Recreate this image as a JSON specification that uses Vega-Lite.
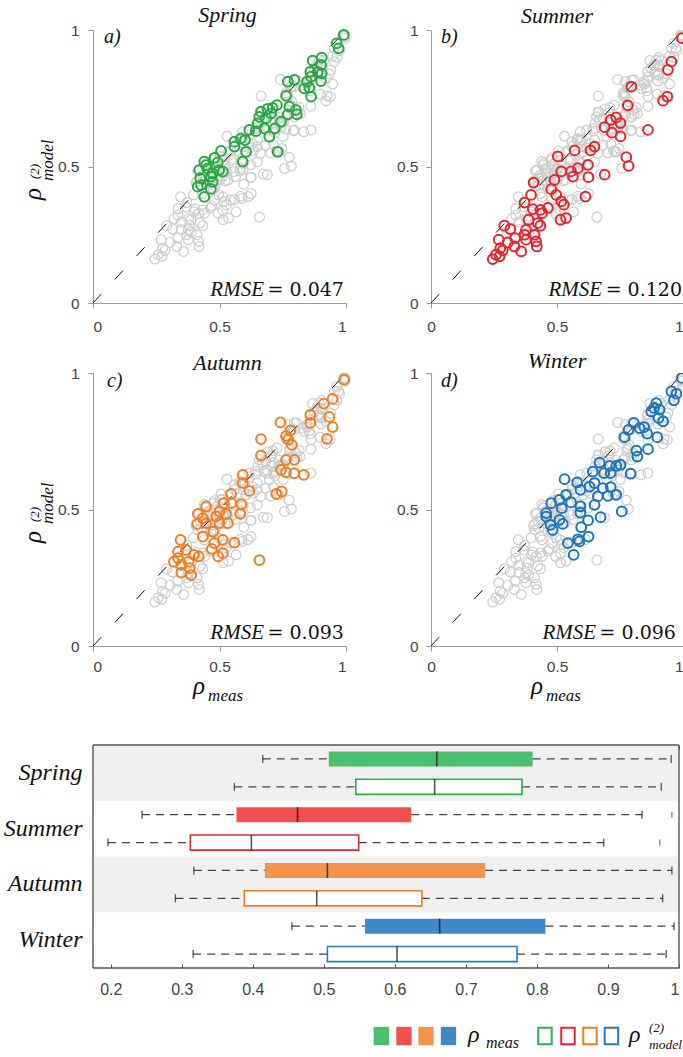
{
  "$schema": "https://vega.github.io/schema/vega-lite/v6.json",
  "background": "white",
  "padding": {"left": 3, "top": 4, "right": 0, "bottom": 0},
  "config": {
    "view": {"stroke": null},
    "axis": {"grid": false, "labelFont": "Liberation Sans", "labelColor": "#444", "domainColor": "#999", "tickColor": "#999", "labelFontSize": 15.5},
    "title": {"font": "Liberation Serif", "fontStyle": "italic", "fontWeight": "normal", "fontSize": 22, "color": "#111", "baseline": "alphabetic"}
  },
  "datasets": {
    "pts": [
      {"s":"Spring","m":0.991,"p":0.982},{"s":"Spring","m":0.963,"p":0.951},{"s":"Spring","m":0.971,"p":0.933},{"s":"Spring","m":0.904,"p":0.899},{"s":"Spring","m":0.868,"p":0.888},{"s":"Spring","m":0.901,"p":0.872},{"s":"Spring","m":0.859,"p":0.847},{"s":"Spring","m":0.888,"p":0.847},{"s":"Spring","m":0.904,"p":0.841},{"s":"Spring","m":0.862,"p":0.829},{"s":"Spring","m":0.901,"p":0.813},{"s":"Spring","m":0.770,"p":0.811},{"s":"Spring","m":0.796,"p":0.817},{"s":"Spring","m":0.846,"p":0.811},{"s":"Spring","m":0.835,"p":0.786},{"s":"Spring","m":0.855,"p":0.789},{"s":"Spring","m":0.862,"p":0.756},{"s":"Spring","m":0.763,"p":0.759},{"s":"Spring","m":0.727,"p":0.725},{"s":"Spring","m":0.710,"p":0.715},{"s":"Spring","m":0.690,"p":0.711},{"s":"Spring","m":0.704,"p":0.695},{"s":"Spring","m":0.776,"p":0.719},{"s":"Spring","m":0.802,"p":0.707},{"s":"Spring","m":0.806,"p":0.691},{"s":"Spring","m":0.770,"p":0.691},{"s":"Spring","m":0.657,"p":0.682},{"s":"Spring","m":0.684,"p":0.677},{"s":"Spring","m":0.651,"p":0.658},{"s":"Spring","m":0.743,"p":0.664},{"s":"Spring","m":0.618,"p":0.634},{"s":"Spring","m":0.644,"p":0.630},{"s":"Spring","m":0.677,"p":0.640},{"s":"Spring","m":0.719,"p":0.640},{"s":"Spring","m":0.697,"p":0.609},{"s":"Spring","m":0.585,"p":0.603},{"s":"Spring","m":0.559,"p":0.591},{"s":"Spring","m":0.559,"p":0.573},{"s":"Spring","m":0.605,"p":0.554},{"s":"Spring","m":0.730,"p":0.554},{"s":"Spring","m":0.506,"p":0.557},{"s":"Spring","m":0.480,"p":0.532},{"s":"Spring","m":0.440,"p":0.518},{"s":"Spring","m":0.420,"p":0.487},{"s":"Spring","m":0.453,"p":0.493},{"s":"Spring","m":0.473,"p":0.475},{"s":"Spring","m":0.499,"p":0.487},{"s":"Spring","m":0.513,"p":0.481},{"s":"Spring","m":0.493,"p":0.515},{"s":"Spring","m":0.447,"p":0.505},{"s":"Spring","m":0.424,"p":0.457},{"s":"Spring","m":0.466,"p":0.463},{"s":"Spring","m":0.427,"p":0.432},{"s":"Spring","m":0.473,"p":0.444},{"s":"Spring","m":0.466,"p":0.418},{"s":"Spring","m":0.440,"p":0.389},{"s":"Spring","m":0.592,"p":0.518},{"s":"Spring","m":0.414,"p":0.426},{"s":"Spring","m":0.601,"p":0.597},{"s":"Spring","m":0.664,"p":0.701},
      {"s":"Summer","m":0.996,"p":0.970},{"s":"Summer","m":0.954,"p":0.884},{"s":"Summer","m":0.940,"p":0.854},{"s":"Summer","m":0.938,"p":0.756},{"s":"Summer","m":0.921,"p":0.741},{"s":"Summer","m":0.795,"p":0.793},{"s":"Summer","m":0.781,"p":0.724},{"s":"Summer","m":0.861,"p":0.634},{"s":"Summer","m":0.735,"p":0.680},{"s":"Summer","m":0.713,"p":0.671},{"s":"Summer","m":0.752,"p":0.659},{"s":"Summer","m":0.689,"p":0.644},{"s":"Summer","m":0.718,"p":0.624},{"s":"Summer","m":0.752,"p":0.610},{"s":"Summer","m":0.649,"p":0.573},{"s":"Summer","m":0.633,"p":0.559},{"s":"Summer","m":0.570,"p":0.559},{"s":"Summer","m":0.775,"p":0.534},{"s":"Summer","m":0.784,"p":0.502},{"s":"Summer","m":0.623,"p":0.506},{"s":"Summer","m":0.583,"p":0.494},{"s":"Summer","m":0.556,"p":0.482},{"s":"Summer","m":0.563,"p":0.463},{"s":"Summer","m":0.625,"p":0.461},{"s":"Summer","m":0.689,"p":0.470},{"s":"Summer","m":0.503,"p":0.537},{"s":"Summer","m":0.517,"p":0.482},{"s":"Summer","m":0.490,"p":0.451},{"s":"Summer","m":0.477,"p":0.417},{"s":"Summer","m":0.497,"p":0.396},{"s":"Summer","m":0.517,"p":0.372},{"s":"Summer","m":0.527,"p":0.360},{"s":"Summer","m":0.514,"p":0.305},{"s":"Summer","m":0.536,"p":0.311},{"s":"Summer","m":0.613,"p":0.390},{"s":"Summer","m":0.407,"p":0.441},{"s":"Summer","m":0.397,"p":0.396},{"s":"Summer","m":0.371,"p":0.368},{"s":"Summer","m":0.404,"p":0.344},{"s":"Summer","m":0.434,"p":0.341},{"s":"Summer","m":0.464,"p":0.348},{"s":"Summer","m":0.441,"p":0.329},{"s":"Summer","m":0.387,"p":0.305},{"s":"Summer","m":0.424,"p":0.293},{"s":"Summer","m":0.434,"p":0.283},{"s":"Summer","m":0.291,"p":0.283},{"s":"Summer","m":0.315,"p":0.271},{"s":"Summer","m":0.377,"p":0.268},{"s":"Summer","m":0.371,"p":0.250},{"s":"Summer","m":0.411,"p":0.250},{"s":"Summer","m":0.334,"p":0.238},{"s":"Summer","m":0.269,"p":0.232},{"s":"Summer","m":0.305,"p":0.222},{"s":"Summer","m":0.417,"p":0.226},{"s":"Summer","m":0.377,"p":0.232},{"s":"Summer","m":0.331,"p":0.207},{"s":"Summer","m":0.275,"p":0.201},{"s":"Summer","m":0.285,"p":0.193},{"s":"Summer","m":0.258,"p":0.177},{"s":"Summer","m":0.358,"p":0.189},{"s":"Summer","m":0.245,"p":0.161},{"s":"Summer","m":0.272,"p":0.171},{"s":"Summer","m":0.420,"p":0.207},
      {"s":"Autumn","m":0.993,"p":0.976},{"s":"Autumn","m":0.947,"p":0.905},{"s":"Autumn","m":0.912,"p":0.888},{"s":"Autumn","m":0.934,"p":0.839},{"s":"Autumn","m":0.947,"p":0.802},{"s":"Autumn","m":0.925,"p":0.759},{"s":"Autumn","m":0.859,"p":0.847},{"s":"Autumn","m":0.859,"p":0.817},{"s":"Autumn","m":0.741,"p":0.819},{"s":"Autumn","m":0.780,"p":0.790},{"s":"Autumn","m":0.763,"p":0.770},{"s":"Autumn","m":0.772,"p":0.756},{"s":"Autumn","m":0.786,"p":0.737},{"s":"Autumn","m":0.664,"p":0.758},{"s":"Autumn","m":0.664,"p":0.697},{"s":"Autumn","m":0.763,"p":0.682},{"s":"Autumn","m":0.796,"p":0.682},{"s":"Autumn","m":0.763,"p":0.636},{"s":"Autumn","m":0.796,"p":0.633},{"s":"Autumn","m":0.833,"p":0.627},{"s":"Autumn","m":0.743,"p":0.645},{"s":"Autumn","m":0.592,"p":0.627},{"s":"Autumn","m":0.592,"p":0.597},{"s":"Autumn","m":0.618,"p":0.568},{"s":"Autumn","m":0.724,"p":0.557},{"s":"Autumn","m":0.746,"p":0.566},{"s":"Autumn","m":0.546,"p":0.557},{"s":"Autumn","m":0.517,"p":0.523},{"s":"Autumn","m":0.546,"p":0.523},{"s":"Autumn","m":0.582,"p":0.484},{"s":"Autumn","m":0.586,"p":0.520},{"s":"Autumn","m":0.500,"p":0.493},{"s":"Autumn","m":0.526,"p":0.484},{"s":"Autumn","m":0.487,"p":0.475},{"s":"Autumn","m":0.447,"p":0.511},{"s":"Autumn","m":0.414,"p":0.484},{"s":"Autumn","m":0.434,"p":0.468},{"s":"Autumn","m":0.447,"p":0.450},{"s":"Autumn","m":0.412,"p":0.447},{"s":"Autumn","m":0.500,"p":0.450},{"s":"Autumn","m":0.533,"p":0.450},{"s":"Autumn","m":0.475,"p":0.419},{"s":"Autumn","m":0.434,"p":0.401},{"s":"Autumn","m":0.513,"p":0.389},{"s":"Autumn","m":0.559,"p":0.379},{"s":"Autumn","m":0.480,"p":0.377},{"s":"Autumn","m":0.470,"p":0.356},{"s":"Autumn","m":0.513,"p":0.340},{"s":"Autumn","m":0.495,"p":0.328},{"s":"Autumn","m":0.346,"p":0.389},{"s":"Autumn","m":0.368,"p":0.352},{"s":"Autumn","m":0.336,"p":0.346},{"s":"Autumn","m":0.399,"p":0.334},{"s":"Autumn","m":0.418,"p":0.328},{"s":"Autumn","m":0.320,"p":0.309},{"s":"Autumn","m":0.378,"p":0.309},{"s":"Autumn","m":0.349,"p":0.297},{"s":"Autumn","m":0.382,"p":0.285},{"s":"Autumn","m":0.349,"p":0.269},{"s":"Autumn","m":0.388,"p":0.260},{"s":"Autumn","m":0.658,"p":0.315},{"s":"Autumn","m":0.336,"p":0.322},
      {"s":"Winter","m":0.996,"p":0.982},{"s":"Winter","m":0.954,"p":0.933},{"s":"Winter","m":0.974,"p":0.924},{"s":"Winter","m":0.964,"p":0.900},{"s":"Winter","m":0.894,"p":0.890},{"s":"Winter","m":0.885,"p":0.872},{"s":"Winter","m":0.907,"p":0.866},{"s":"Winter","m":0.874,"p":0.859},{"s":"Winter","m":0.903,"p":0.835},{"s":"Winter","m":0.921,"p":0.823},{"s":"Winter","m":0.805,"p":0.817},{"s":"Winter","m":0.784,"p":0.792},{"s":"Winter","m":0.828,"p":0.798},{"s":"Winter","m":0.846,"p":0.802},{"s":"Winter","m":0.858,"p":0.778},{"s":"Winter","m":0.768,"p":0.765},{"s":"Winter","m":0.898,"p":0.765},{"s":"Winter","m":0.815,"p":0.716},{"s":"Winter","m":0.819,"p":0.694},{"s":"Winter","m":0.861,"p":0.721},{"s":"Winter","m":0.669,"p":0.672},{"s":"Winter","m":0.709,"p":0.660},{"s":"Winter","m":0.735,"p":0.660},{"s":"Winter","m":0.752,"p":0.664},{"s":"Winter","m":0.642,"p":0.639},{"s":"Winter","m":0.687,"p":0.633},{"s":"Winter","m":0.713,"p":0.633},{"s":"Winter","m":0.792,"p":0.631},{"s":"Winter","m":0.530,"p":0.611},{"s":"Winter","m":0.580,"p":0.599},{"s":"Winter","m":0.649,"p":0.597},{"s":"Winter","m":0.629,"p":0.584},{"s":"Winter","m":0.593,"p":0.572},{"s":"Winter","m":0.682,"p":0.578},{"s":"Winter","m":0.713,"p":0.582},{"s":"Winter","m":0.662,"p":0.548},{"s":"Winter","m":0.702,"p":0.550},{"s":"Winter","m":0.735,"p":0.554},{"s":"Winter","m":0.536,"p":0.554},{"s":"Winter","m":0.556,"p":0.526},{"s":"Winter","m":0.477,"p":0.523},{"s":"Winter","m":0.510,"p":0.535},{"s":"Winter","m":0.649,"p":0.517},{"s":"Winter","m":0.593,"p":0.511},{"s":"Winter","m":0.519,"p":0.505},{"s":"Winter","m":0.457,"p":0.487},{"s":"Winter","m":0.593,"p":0.489},{"s":"Winter","m":0.757,"p":0.493},{"s":"Winter","m":0.673,"p":0.472},{"s":"Winter","m":0.457,"p":0.474},{"s":"Winter","m":0.510,"p":0.462},{"s":"Winter","m":0.523,"p":0.447},{"s":"Winter","m":0.623,"p":0.460},{"s":"Winter","m":0.474,"p":0.444},{"s":"Winter","m":0.483,"p":0.425},{"s":"Winter","m":0.596,"p":0.435},{"s":"Winter","m":0.583,"p":0.391},{"s":"Winter","m":0.625,"p":0.401},{"s":"Winter","m":0.543,"p":0.377},{"s":"Winter","m":0.589,"p":0.383},{"s":"Winter","m":0.566,"p":0.334}
    ],
    "box": [
      {"s":"Spring","k":"meas","lo":0.414,"q1":0.507,"med":0.659,"q3":0.794,"hi":0.989},
      {"s":"Spring","k":"model","lo":0.374,"q1":0.545,"med":0.656,"q3":0.779,"hi":0.975},
      {"s":"Summer","k":"meas","lo":0.244,"q1":0.377,"med":0.463,"q3":0.623,"hi":0.948,"out":0.99},
      {"s":"Summer","k":"model","lo":0.196,"q1":0.312,"med":0.398,"q3":0.549,"hi":0.894,"out":0.973},
      {"s":"Autumn","k":"meas","lo":0.317,"q1":0.417,"med":0.505,"q3":0.727,"hi":0.99},
      {"s":"Autumn","k":"model","lo":0.291,"q1":0.388,"med":0.49,"q3":0.638,"hi":0.977},
      {"s":"Winter","k":"meas","lo":0.455,"q1":0.558,"med":0.663,"q3":0.812,"hi":0.993},
      {"s":"Winter","k":"model","lo":0.316,"q1":0.505,"med":0.603,"q3":0.772,"hi":0.982}
    ]
  },
  "columns": 2,
  "bounds": "flush",
  "align": "each",
  "spacing": {"row": 0, "column": 85},
  "concat": [
    {
      "width": 253, "height": 273,
      "title": {"text": "Spring", "dx": 8, "offset": -4},
      "layer": [
        {"data": {"name": "pts"}, "transform": [{"filter": "datum.s != 'Spring'"}],
         "mark": {"type": "point", "shape": "circle", "size": 95, "filled": false, "color": "#cccccc", "strokeWidth": 1.2, "opacity": 1},
         "encoding": {
           "x": {"field": "m", "type": "quantitative", "scale": {"domain": [0, 1]}, "axis": {"values": [0, 0.5, 1], "format": ".1~f", "title": null, "tickSize": 5, "labelPadding": 11}},
           "y": {"field": "p", "type": "quantitative", "scale": {"domain": [0, 1]}, "axis": {"values": [0, 0.5, 1], "format": ".1~f", "title": null, "tickSize": 5, "labelPadding": 9}}}},
        {"data": {"values": [{}]}, "mark": {"type": "rule", "color": "#111", "strokeWidth": 1, "strokeDash": [12, 20]},
         "encoding": {"x": {"datum": 0, "type": "quantitative"}, "y": {"datum": 0, "type": "quantitative"}, "x2": {"datum": 1}, "y2": {"datum": 1}}},
        {"data": {"name": "pts"}, "transform": [{"filter": "datum.s == 'Spring'"}],
         "mark": {"type": "point", "shape": "circle", "size": 95, "filled": false, "color": "#27a844", "strokeWidth": 2, "opacity": 1},
         "encoding": {"x": {"field": "m", "type": "quantitative"}, "y": {"field": "p", "type": "quantitative"}}},
        {"data": {"values": [{}]}, "mark": {"type": "text", "text": "a)", "font": "Liberation Serif", "fontStyle": "italic", "fontSize": 20, "align": "left", "baseline": "middle", "color": "#111"},
         "encoding": {"x": {"datum": 0.043, "type": "quantitative"}, "y": {"datum": 0.974, "type": "quantitative"}}},
        {"data": {"values": [{}]}, "mark": {"type": "text", "text": "RMSE", "font": "Liberation Serif", "fontStyle": "italic", "fontSize": 21, "align": "right", "baseline": "alphabetic", "color": "#111"},
         "encoding": {"x": {"datum": 0.676, "type": "quantitative"}, "y": {"datum": 0.025, "type": "quantitative"}}},
        {"data": {"values": [{}]}, "mark": {"type": "text", "text": "= 0.047", "font": "DejaVu Serif", "fontSize": 19, "align": "left", "baseline": "alphabetic", "color": "#111"},
         "encoding": {"x": {"datum": 0.69, "type": "quantitative"}, "y": {"datum": 0.025, "type": "quantitative"}}},
        {"data": {"values": [{}]}, "mark": {"type": "text", "text": "ρ", "font": "Liberation Serif", "fontStyle": "italic", "fontSize": 25, "angle": 270, "align": "left", "baseline": "alphabetic", "color": "#111"},
         "encoding": {"x": {"datum": -0.2055, "type": "quantitative"}, "y": {"datum": 0.377, "type": "quantitative"}}},
        {"data": {"values": [{}]}, "mark": {"type": "text", "text": "model", "font": "Liberation Serif", "fontStyle": "italic", "fontSize": 17, "angle": 270, "align": "left", "baseline": "alphabetic", "color": "#111"},
         "encoding": {"x": {"datum": -0.158, "type": "quantitative"}, "y": {"datum": 0.447, "type": "quantitative"}}},
        {"data": {"values": [{}]}, "mark": {"type": "text", "text": "(2)", "font": "Liberation Serif", "fontStyle": "italic", "fontSize": 13, "angle": 270, "align": "left", "baseline": "alphabetic", "color": "#111"},
         "encoding": {"x": {"datum": -0.213, "type": "quantitative"}, "y": {"datum": 0.454, "type": "quantitative"}}}
      ]
    },
    {
      "width": 252, "height": 273,
      "title": {"text": "Summer", "offset": -5},
      "layer": [
        {"data": {"name": "pts"}, "transform": [{"filter": "datum.s != 'Summer'"}],
         "mark": {"type": "point", "shape": "circle", "size": 95, "filled": false, "color": "#cccccc", "strokeWidth": 1.2, "opacity": 1, "clip": true},
         "encoding": {
           "x": {"field": "m", "type": "quantitative", "scale": {"domain": [0, 1]}, "axis": {"values": [0, 0.5, 1], "format": ".1~f", "title": null, "tickSize": 5, "labelPadding": 11, "labelAlign": {"condition": {"test": "datum.value >= 1", "value": "right"}, "value": "center"}}},
           "y": {"field": "p", "type": "quantitative", "scale": {"domain": [0, 1]}, "axis": {"values": [0, 0.5, 1], "format": ".1~f", "title": null, "tickSize": 5, "labelPadding": 8}}}},
        {"data": {"values": [{}]}, "mark": {"type": "rule", "color": "#111", "strokeWidth": 1, "strokeDash": [12, 20]},
         "encoding": {"x": {"datum": 0, "type": "quantitative"}, "y": {"datum": 0, "type": "quantitative"}, "x2": {"datum": 1}, "y2": {"datum": 1}}},
        {"data": {"name": "pts"}, "transform": [{"filter": "datum.s == 'Summer'"}],
         "mark": {"type": "point", "shape": "circle", "size": 95, "filled": false, "color": "#e8232a", "strokeWidth": 2, "opacity": 1, "clip": true},
         "encoding": {"x": {"field": "m", "type": "quantitative"}, "y": {"field": "p", "type": "quantitative"}}},
        {"data": {"values": [{}]}, "mark": {"type": "text", "text": "b)", "font": "Liberation Serif", "fontStyle": "italic", "fontSize": 20, "align": "left", "baseline": "middle", "color": "#111"},
         "encoding": {"x": {"datum": 0.04, "type": "quantitative"}, "y": {"datum": 0.974, "type": "quantitative"}}},
        {"data": {"values": [{}]}, "mark": {"type": "text", "text": "RMSE", "font": "Liberation Serif", "fontStyle": "italic", "fontSize": 21, "align": "right", "baseline": "alphabetic", "color": "#111"},
         "encoding": {"x": {"datum": 0.679, "type": "quantitative"}, "y": {"datum": 0.025, "type": "quantitative"}}},
        {"data": {"values": [{}]}, "mark": {"type": "text", "text": "= 0.120", "font": "DejaVu Serif", "fontSize": 19, "align": "left", "baseline": "alphabetic", "color": "#111"},
         "encoding": {"x": {"datum": 0.693, "type": "quantitative"}, "y": {"datum": 0.025, "type": "quantitative"}}}
      ]
    },
    {"width": 1, "height": 70, "data": {"values": [{}]}, "mark": {"type": "point", "opacity": 0}},
    {"width": 1, "height": 70, "data": {"values": [{}]}, "mark": {"type": "point", "opacity": 0}},
    {
      "width": 253, "height": 273,
      "title": {"text": "Autumn", "dx": 8, "offset": -8.75},
      "layer": [
        {"data": {"name": "pts"}, "transform": [{"filter": "datum.s != 'Autumn'"}],
         "mark": {"type": "point", "shape": "circle", "size": 95, "filled": false, "color": "#cccccc", "strokeWidth": 1.2, "opacity": 1},
         "encoding": {
           "x": {"field": "m", "type": "quantitative", "scale": {"domain": [0, 1]}, "axis": {"values": [0, 0.5, 1], "format": ".1~f", "title": null, "tickSize": 5, "labelPadding": 8}},
           "y": {"field": "p", "type": "quantitative", "scale": {"domain": [0, 1]}, "axis": {"values": [0, 0.5, 1], "format": ".1~f", "title": null, "tickSize": 5, "labelPadding": 9}}}},
        {"data": {"values": [{}]}, "mark": {"type": "rule", "color": "#111", "strokeWidth": 1, "strokeDash": [12, 20]},
         "encoding": {"x": {"datum": 0, "type": "quantitative"}, "y": {"datum": 0, "type": "quantitative"}, "x2": {"datum": 1}, "y2": {"datum": 1}}},
        {"data": {"name": "pts"}, "transform": [{"filter": "datum.s == 'Autumn'"}],
         "mark": {"type": "point", "shape": "circle", "size": 95, "filled": false, "color": "#f47c20", "strokeWidth": 2, "opacity": 1},
         "encoding": {"x": {"field": "m", "type": "quantitative"}, "y": {"field": "p", "type": "quantitative"}}},
        {"data": {"values": [{}]}, "mark": {"type": "text", "text": "c)", "font": "Liberation Serif", "fontStyle": "italic", "fontSize": 20, "align": "left", "baseline": "middle", "color": "#111"},
         "encoding": {"x": {"datum": 0.055, "type": "quantitative"}, "y": {"datum": 0.971, "type": "quantitative"}}},
        {"data": {"values": [{}]}, "mark": {"type": "text", "text": "RMSE", "font": "Liberation Serif", "fontStyle": "italic", "fontSize": 21, "align": "right", "baseline": "alphabetic", "color": "#111"},
         "encoding": {"x": {"datum": 0.676, "type": "quantitative"}, "y": {"datum": 0.027, "type": "quantitative"}}},
        {"data": {"values": [{}]}, "mark": {"type": "text", "text": "= 0.093", "font": "DejaVu Serif", "fontSize": 19, "align": "left", "baseline": "alphabetic", "color": "#111"},
         "encoding": {"x": {"datum": 0.69, "type": "quantitative"}, "y": {"datum": 0.027, "type": "quantitative"}}},
        {"data": {"values": [{}]}, "mark": {"type": "text", "text": "ρ", "font": "Liberation Serif", "fontStyle": "italic", "fontSize": 25, "angle": 270, "align": "left", "baseline": "alphabetic", "color": "#111"},
         "encoding": {"x": {"datum": -0.2055, "type": "quantitative"}, "y": {"datum": 0.377, "type": "quantitative"}}},
        {"data": {"values": [{}]}, "mark": {"type": "text", "text": "model", "font": "Liberation Serif", "fontStyle": "italic", "fontSize": 17, "angle": 270, "align": "left", "baseline": "alphabetic", "color": "#111"},
         "encoding": {"x": {"datum": -0.158, "type": "quantitative"}, "y": {"datum": 0.447, "type": "quantitative"}}},
        {"data": {"values": [{}]}, "mark": {"type": "text", "text": "(2)", "font": "Liberation Serif", "fontStyle": "italic", "fontSize": 13, "angle": 270, "align": "left", "baseline": "alphabetic", "color": "#111"},
         "encoding": {"x": {"datum": -0.213, "type": "quantitative"}, "y": {"datum": 0.454, "type": "quantitative"}}},
        {"data": {"values": [{}]}, "mark": {"type": "text", "text": "ρ", "font": "Liberation Serif", "fontStyle": "italic", "fontSize": 25, "align": "left", "baseline": "alphabetic", "color": "#111"},
         "encoding": {"x": {"datum": 0.395, "type": "quantitative"}, "y": {"datum": -0.176, "type": "quantitative"}}},
        {"data": {"values": [{}]}, "mark": {"type": "text", "text": "meas", "font": "Liberation Serif", "fontStyle": "italic", "fontSize": 17, "align": "left", "baseline": "alphabetic", "color": "#111"},
         "encoding": {"x": {"datum": 0.455, "type": "quantitative"}, "y": {"datum": -0.201, "type": "quantitative"}}}
      ]
    },
    {
      "width": 252, "height": 273,
      "title": {"text": "Winter", "offset": -7.15},
      "layer": [
        {"data": {"name": "pts"}, "transform": [{"filter": "datum.s != 'Winter'"}],
         "mark": {"type": "point", "shape": "circle", "size": 95, "filled": false, "color": "#cccccc", "strokeWidth": 1.2, "opacity": 1, "clip": true},
         "encoding": {
           "x": {"field": "m", "type": "quantitative", "scale": {"domain": [0, 1]}, "axis": {"values": [0, 0.5, 1], "format": ".1~f", "title": null, "tickSize": 5, "labelPadding": 8, "labelAlign": {"condition": {"test": "datum.value >= 1", "value": "right"}, "value": "center"}}},
           "y": {"field": "p", "type": "quantitative", "scale": {"domain": [0, 1]}, "axis": {"values": [0, 0.5, 1], "format": ".1~f", "title": null, "tickSize": 5, "labelPadding": 8}}}},
        {"data": {"values": [{}]}, "mark": {"type": "rule", "color": "#111", "strokeWidth": 1, "strokeDash": [12, 20]},
         "encoding": {"x": {"datum": 0, "type": "quantitative"}, "y": {"datum": 0, "type": "quantitative"}, "x2": {"datum": 1}, "y2": {"datum": 1}}},
        {"data": {"name": "pts"}, "transform": [{"filter": "datum.s == 'Winter'"}],
         "mark": {"type": "point", "shape": "circle", "size": 95, "filled": false, "color": "#1a75bc", "strokeWidth": 2, "opacity": 1, "clip": true},
         "encoding": {"x": {"field": "m", "type": "quantitative"}, "y": {"field": "p", "type": "quantitative"}}},
        {"data": {"values": [{}]}, "mark": {"type": "text", "text": "d)", "font": "Liberation Serif", "fontStyle": "italic", "fontSize": 20, "align": "left", "baseline": "middle", "color": "#111"},
         "encoding": {"x": {"datum": 0.04, "type": "quantitative"}, "y": {"datum": 0.971, "type": "quantitative"}}},
        {"data": {"values": [{}]}, "mark": {"type": "text", "text": "RMSE", "font": "Liberation Serif", "fontStyle": "italic", "fontSize": 21, "align": "right", "baseline": "alphabetic", "color": "#111"},
         "encoding": {"x": {"datum": 0.655, "type": "quantitative"}, "y": {"datum": 0.027, "type": "quantitative"}}},
        {"data": {"values": [{}]}, "mark": {"type": "text", "text": "= 0.096", "font": "DejaVu Serif", "fontSize": 19, "align": "left", "baseline": "alphabetic", "color": "#111"},
         "encoding": {"x": {"datum": 0.669, "type": "quantitative"}, "y": {"datum": 0.027, "type": "quantitative"}}},
        {"data": {"values": [{}]}, "mark": {"type": "text", "text": "ρ", "font": "Liberation Serif", "fontStyle": "italic", "fontSize": 25, "align": "left", "baseline": "alphabetic", "color": "#111"},
         "encoding": {"x": {"datum": 0.397, "type": "quantitative"}, "y": {"datum": -0.176, "type": "quantitative"}}},
        {"data": {"values": [{}]}, "mark": {"type": "text", "text": "meas", "font": "Liberation Serif", "fontStyle": "italic", "fontSize": 17, "align": "left", "baseline": "alphabetic", "color": "#111"},
         "encoding": {"x": {"datum": 0.456, "type": "quantitative"}, "y": {"datum": -0.201, "type": "quantitative"}}}
      ]
    },
    {"width": 1, "height": 99, "data": {"values": [{}]}, "mark": {"type": "point", "opacity": 0}},
    {"width": 1, "height": 99, "data": {"values": [{}]}, "mark": {"type": "point", "opacity": 0}},
    {
      "width": 253, "height": 223,
      "data": {"name": "box"},
      "layer": [
        {"transform": [{"filter": "datum.k == 'meas' && (datum.s == 'Spring' || datum.s == 'Autumn')"}],
         "mark": {"type": "bar", "color": "#f0f0f0"},
         "encoding": {
           "y": {"field": "s", "type": "nominal", "scale": {"domain": ["Spring", "Summer", "Autumn", "Winter"], "paddingInner": 0, "paddingOuter": 0},
                 "axis": {"title": null, "ticks": false, "tickSize": 0, "domain": false, "labelFont": "Liberation Serif", "labelFontStyle": "italic", "labelFontSize": 24, "labelColor": "#111", "labelPadding": 11}},
           "x": {"datum": 0.175, "type": "quantitative", "scale": {"domain": [0.175, 1], "range": [0, 586], "nice": false, "zero": false},
                 "axis": {"orient": "bottom", "values": [0.2, 0.3, 0.4, 0.5, 0.6, 0.7, 0.8, 0.9, 1], "format": ".1~f", "title": null, "offset": -4, "tickSize": 4, "domain": false, "tickColor": "#555", "labelFontSize": 16, "labelPadding": 13, "labelAlign": {"condition": {"test": "datum.value >= 1", "value": "right"}, "value": "center"}}},
           "x2": {"datum": 1}}},
        {"mark": {"type": "rule", "color": "#444", "strokeWidth": 1.2, "strokeDash": [8, 6]},
         "encoding": {"y": {"field": "s", "type": "nominal"}, "yOffset": {"field": "k", "type": "nominal", "scale": {"domain": ["meas", "model"], "paddingInner": 0.46, "paddingOuter": 0.23}},
                      "x": {"field": "lo", "type": "quantitative", "axis": null}, "x2": {"field": "q1"}}},
        {"mark": {"type": "rule", "color": "#444", "strokeWidth": 1.2, "strokeDash": [8, 6]},
         "encoding": {"y": {"field": "s", "type": "nominal"}, "yOffset": {"field": "k", "type": "nominal"},
                      "x": {"field": "q3", "type": "quantitative", "axis": null}, "x2": {"field": "hi"}}},
        {"mark": {"type": "tick", "color": "#111", "size": 8, "thickness": 1.3},
         "encoding": {"y": {"field": "s", "type": "nominal"}, "yOffset": {"field": "k", "type": "nominal"}, "x": {"field": "lo", "type": "quantitative", "axis": null}}},
        {"mark": {"type": "tick", "color": "#111", "size": 8, "thickness": 1.3},
         "encoding": {"y": {"field": "s", "type": "nominal"}, "yOffset": {"field": "k", "type": "nominal"}, "x": {"field": "hi", "type": "quantitative", "axis": null}}},
        {"transform": [{"filter": "datum.k == 'meas'"}],
         "mark": {"type": "bar", "strokeWidth": 0},
         "encoding": {"y": {"field": "s", "type": "nominal"}, "yOffset": {"field": "k", "type": "nominal"},
                      "x": {"field": "q1", "type": "quantitative", "axis": null}, "x2": {"field": "q3"},
                      "fill": {"field": "s", "type": "nominal", "scale": {"domain": ["Spring", "Summer", "Autumn", "Winter"], "range": ["#4cbf6f", "#f14e50", "#f4934b", "#4089c7"]}, "legend": null}}},
        {"transform": [{"filter": "datum.k == 'model'"}],
         "mark": {"type": "bar", "fill": "white", "strokeWidth": 1.6},
         "encoding": {"y": {"field": "s", "type": "nominal"}, "yOffset": {"field": "k", "type": "nominal"},
                      "x": {"field": "q1", "type": "quantitative", "axis": null}, "x2": {"field": "q3"},
                      "stroke": {"field": "s", "type": "nominal", "scale": {"domain": ["Spring", "Summer", "Autumn", "Winter"], "range": ["#27b24a", "#e8232a", "#f47c20", "#2a7abf"]}, "legend": null}}},
        {"mark": {"type": "tick", "color": "#111", "size": 15, "thickness": 1.6},
         "encoding": {"y": {"field": "s", "type": "nominal"}, "yOffset": {"field": "k", "type": "nominal"},
                      "x": {"field": "med", "type": "quantitative",
                            "axis": {"orient": "top", "values": [0.2, 0.3, 0.4, 0.5, 0.6, 0.7, 0.8, 0.9, 1], "title": null, "labels": false, "offset": -4, "tickSize": 4, "domain": false, "tickColor": "#555"}}}},
        {"transform": [{"filter": "isValid(datum.out)"}],
         "mark": {"type": "tick", "color": "#e8232a", "size": 6, "thickness": 1.5},
         "encoding": {"y": {"field": "s", "type": "nominal"}, "yOffset": {"field": "k", "type": "nominal"}, "x": {"field": "out", "type": "quantitative", "axis": null}}},
        {"data": {"values": [{}]}, "mark": {"type": "rule", "color": "#555", "strokeWidth": 1.4},
         "encoding": {"x": {"datum": 0.175, "type": "quantitative", "axis": null}}},
        {"data": {"values": [{}]}, "mark": {"type": "rule", "color": "#555", "strokeWidth": 1.4},
         "encoding": {"x": {"datum": 1, "type": "quantitative", "axis": null}}},
        {"data": {"values": [{}]}, "mark": {"type": "rule", "color": "#555", "strokeWidth": 1.4},
         "encoding": {"x": {"datum": 0.175, "type": "quantitative", "axis": null}, "x2": {"datum": 1}, "y": {"datum": "Spring", "type": "nominal", "bandPosition": 0}}},
        {"data": {"values": [{}]}, "mark": {"type": "rule", "color": "#555", "strokeWidth": 1.4},
         "encoding": {"x": {"datum": 0.175, "type": "quantitative", "axis": null}, "x2": {"datum": 1}, "y": {"datum": "Winter", "type": "nominal", "bandPosition": 1}}},
        {"data": {"values": [{}]}, "mark": {"type": "point", "shape": "M-0.836,-1L0.836,-1L0.836,1L-0.836,1Z", "size": 335, "filled": true, "opacity": 1, "strokeWidth": 0, "color": "#4cbf6f", "yOffset": 68},
         "encoding": {"x": {"datum": 0.5809, "type": "quantitative", "axis": null}, "y": {"datum": "Winter", "type": "nominal", "bandPosition": 1}}},
        {"data": {"values": [{}]}, "mark": {"type": "point", "shape": "M-0.836,-1L0.836,-1L0.836,1L-0.836,1Z", "size": 335, "filled": true, "opacity": 1, "strokeWidth": 0, "color": "#f14e50", "yOffset": 68},
         "encoding": {"x": {"datum": 0.6128, "type": "quantitative", "axis": null}, "y": {"datum": "Winter", "type": "nominal", "bandPosition": 1}}},
        {"data": {"values": [{}]}, "mark": {"type": "point", "shape": "M-0.836,-1L0.836,-1L0.836,1L-0.836,1Z", "size": 335, "filled": true, "opacity": 1, "strokeWidth": 0, "color": "#f4934b", "yOffset": 68},
         "encoding": {"x": {"datum": 0.6438, "type": "quantitative", "axis": null}, "y": {"datum": "Winter", "type": "nominal", "bandPosition": 1}}},
        {"data": {"values": [{}]}, "mark": {"type": "point", "shape": "M-0.836,-1L0.836,-1L0.836,1L-0.836,1Z", "size": 335, "filled": true, "opacity": 1, "strokeWidth": 0, "color": "#4089c7", "yOffset": 68},
         "encoding": {"x": {"datum": 0.6755, "type": "quantitative", "axis": null}, "y": {"datum": "Winter", "type": "nominal", "bandPosition": 1}}},
        {"data": {"values": [{}]}, "mark": {"type": "point", "shape": "M-0.82,-1L0.82,-1L0.82,1L-0.82,1Z", "size": 270, "filled": false, "opacity": 1, "strokeWidth": 2, "color": "#27b24a", "yOffset": 68},
         "encoding": {"x": {"datum": 0.8113, "type": "quantitative", "axis": null}, "y": {"datum": "Winter", "type": "nominal", "bandPosition": 1}}},
        {"data": {"values": [{}]}, "mark": {"type": "point", "shape": "M-0.82,-1L0.82,-1L0.82,1L-0.82,1Z", "size": 270, "filled": false, "opacity": 1, "strokeWidth": 2, "color": "#e8232a", "yOffset": 68},
         "encoding": {"x": {"datum": 0.8437, "type": "quantitative", "axis": null}, "y": {"datum": "Winter", "type": "nominal", "bandPosition": 1}}},
        {"data": {"values": [{}]}, "mark": {"type": "point", "shape": "M-0.82,-1L0.82,-1L0.82,1L-0.82,1Z", "size": 270, "filled": false, "opacity": 1, "strokeWidth": 2, "color": "#f47c20", "yOffset": 68},
         "encoding": {"x": {"datum": 0.8747, "type": "quantitative", "axis": null}, "y": {"datum": "Winter", "type": "nominal", "bandPosition": 1}}},
        {"data": {"values": [{}]}, "mark": {"type": "point", "shape": "M-0.82,-1L0.82,-1L0.82,1L-0.82,1Z", "size": 270, "filled": false, "opacity": 1, "strokeWidth": 2, "color": "#2a7abf", "yOffset": 68},
         "encoding": {"x": {"datum": 0.9049, "type": "quantitative", "axis": null}, "y": {"datum": "Winter", "type": "nominal", "bandPosition": 1}}},
        {"data": {"values": [{}]}, "mark": {"type": "text", "text": "ρ", "font": "Liberation Serif", "fontStyle": "italic", "fontSize": 24, "align": "left", "baseline": "alphabetic", "dy": 74, "color": "#111"},
         "encoding": {"x": {"datum": 0.7029, "type": "quantitative", "axis": null}, "y": {"datum": "Winter", "type": "nominal", "bandPosition": 1}}},
        {"data": {"values": [{}]}, "mark": {"type": "text", "text": "meas", "font": "Liberation Serif", "fontStyle": "italic", "fontSize": 16, "align": "left", "baseline": "alphabetic", "dy": 80, "color": "#111"},
         "encoding": {"x": {"datum": 0.7283, "type": "quantitative", "axis": null}, "y": {"datum": "Winter", "type": "nominal", "bandPosition": 1}}},
        {"data": {"values": [{}]}, "mark": {"type": "text", "text": "ρ", "font": "Liberation Serif", "fontStyle": "italic", "fontSize": 24, "align": "left", "baseline": "alphabetic", "dy": 74, "color": "#111"},
         "encoding": {"x": {"datum": 0.9296, "type": "quantitative", "axis": null}, "y": {"datum": "Winter", "type": "nominal", "bandPosition": 1}}},
        {"data": {"values": [{}]}, "mark": {"type": "text", "text": "(2)", "font": "Liberation Serif", "fontStyle": "italic", "fontSize": 13, "align": "left", "baseline": "alphabetic", "dy": 64, "color": "#111"},
         "encoding": {"x": {"datum": 0.9577, "type": "quantitative", "axis": null}, "y": {"datum": "Winter", "type": "nominal", "bandPosition": 1}}},
        {"data": {"values": [{}]}, "mark": {"type": "text", "text": "model", "font": "Liberation Serif", "fontStyle": "italic", "fontSize": 13.5, "align": "left", "baseline": "alphabetic", "dy": 81, "color": "#111"},
         "encoding": {"x": {"datum": 0.9577, "type": "quantitative", "axis": null}, "y": {"datum": "Winter", "type": "nominal", "bandPosition": 1}}}
      ],
      "resolve": {"axis": {"x": "independent"}}
    }
  ]
}
